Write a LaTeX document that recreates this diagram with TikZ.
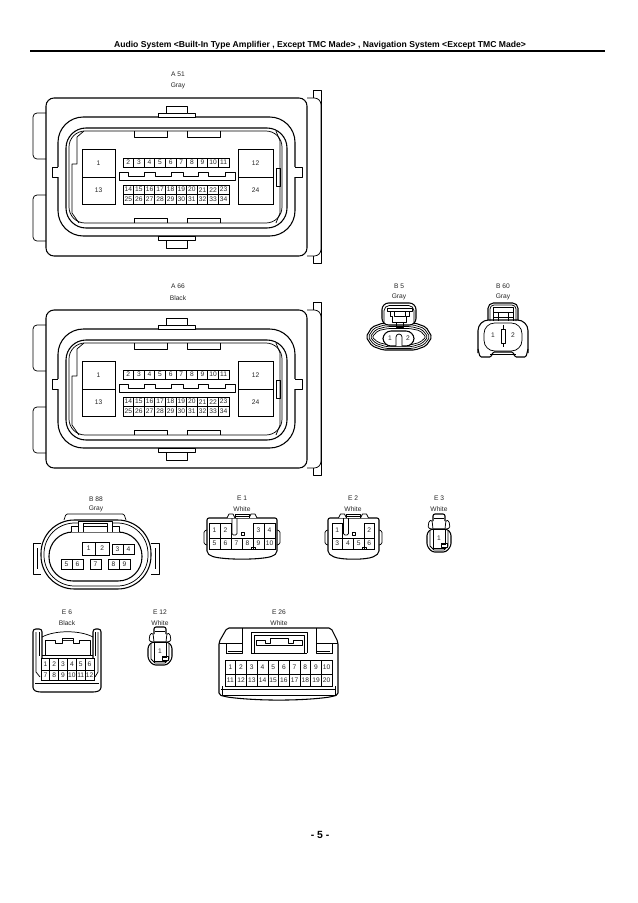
\documentclass[tikz,border=0pt]{standalone}
\usepackage{fontspec}
\setmainfont{Liberation Sans}
\tikzset{
  wire/.style={line width=0.55pt, line join=round},
  heavy/.style={line width=0.8pt, line join=round},
  lbl/.style={inner sep=0pt, font=\fontsize{5}{6}\selectfont, text=black!85},
  pinbox/.style n args={2}{draw, line width=0.5pt, inner sep=0pt, outer sep=0pt,
    minimum width=#1*0.75pt, minimum height=#2*0.75pt, font=\fontsize{5}{6}\selectfont, text=black!85}
}
\newcommand{\bigconn}[2]{
  \begin{scope}[shift={(0,#2)}]
    \draw[heavy, rounded corners=6pt] (46,98) rectangle (307,256);
    \draw[wire, rounded corners=3pt] (46,113) -- (33,113) -- (33,159) -- (46,159);
    \draw[wire, rounded corners=3pt] (46,195) -- (33,195) -- (33,241) -- (46,241);
    \draw[wire, rounded corners=5pt] (307,98) -- (321,98) -- (321,256) -- (307,256);
    \draw[wire] (313,98) -- (313,90) -- (321,90) -- (321,263) -- (313,263) -- (313,256);
    \draw[heavy, rounded corners=19pt] (58,117) rectangle (295,236);
    \draw[wire, fill=white] (158,117) -- (158,113) -- (166,113) -- (166,106) -- (187,106) -- (187,113) -- (195,113) -- (195,117) -- cycle;
    \draw[wire] (166,113) -- (187,113);
    \draw[wire, fill=white] (158,236) -- (158,240) -- (166,240) -- (166,248) -- (187,248) -- (187,240) -- (195,240) -- (195,236) -- cycle;
    \draw[wire] (166,240) -- (187,240);
    \fill[white] (52,167) rectangle (59,177);
    \draw[wire] (58,167) -- (52,167) -- (52,177) -- (58,177);
    \fill[white] (294,167) rectangle (302,177);
    \draw[wire] (295,167) -- (302,167) -- (302,177) -- (295,177);
    \draw[heavy, rounded corners=15pt] (66,128) rectangle (287,228);
    \draw[wire, rounded corners=12pt] (69,131) rectangle (282,223);
    \draw[wire] (84,131) -- (77,137) -- (77,164) -- (72,164) -- (72,213) -- (79,223);
    \draw[wire] (276,131) -- (280,141) -- (280,213) -- (276,223);
    \draw[wire] (276,168) rectangle (280,186);
    \draw[wire] (134,131) -- (134,137) -- (167,137) -- (167,131);
    \draw[wire] (187,131) -- (187,137) -- (220,137) -- (220,131);
    \draw[wire] (134,223) -- (134,218) -- (167,218) -- (167,223);
    \draw[wire] (187,223) -- (187,218) -- (220,218) -- (220,223);
    \draw[wire] (119,172) -- (128,172) -- (128,176) -- (144,176) -- (144,172) -- (155,172) -- (155,176) -- (171,176) -- (171,172) -- (183,172) -- (183,176) -- (198,176) -- (198,172) -- (208,172) -- (208,176) -- (225,176) -- (225,172) -- (235,172) -- (235,180) -- (119,180) -- cycle;
    \node[pinbox={33}{28}] (#1p1) at (98.5,163) {1};
    \node[pinbox={33}{27}] (#1p13) at (98.5,190.5) {13};
    \node[pinbox={35}{28}] (#1p12) at (255.5,163) {12};
    \node[pinbox={35}{27}] (#1p24) at (255.5,190.5) {24};
    \foreach \n [count=\i from 0] in {2,...,11}
      \node[pinbox={10.6}{9}] (#1p\n) at ({128.3+\i*10.6},162.5) {\n};
    \foreach \n [count=\i from 0] in {14,...,23}
      \node[pinbox={10.6}{9.5}] (#1p\n) at ({128.3+\i*10.6},189.7) {\n};
    \foreach \n [count=\i from 0] in {25,...,34}
      \node[pinbox={10.6}{9.5}] (#1p\n) at ({128.3+\i*10.6},199.2) {\n};
  \end{scope}
}
\newcommand{\ebody}[2]{
  \begin{scope}[shift={(#1,0)}]
    \draw[heavy, rounded corners=1.5pt] (-#2,553) -- (-#2,518) -- (#2,518) -- (#2,553) -- (#2-4,556) .. controls (#2/2,560) and (-#2/2,560) .. (-#2+4,556) -- cycle;
    \draw[wire, rounded corners=1pt] (-#2,530) -- (-#2-3,531) -- (-#2-3,544) -- (-#2,545);
    \draw[wire, rounded corners=1pt] (#2,530) -- (#2+3,531) -- (#2+3,544) -- (#2,545);
    \draw[wire, fill=white] (-15,518) -- (-13,514) -- (-9,514) -- (-7,518);
    \draw[wire, fill=white] (7,518) -- (9,514) -- (13,514) -- (15,518);
    \draw[wire, fill=white] (-7,518) -- (-7,514) -- (7,514) -- (7,518);
    \draw[wire] (-7,516) -- (7,516);
    \draw[wire, rounded corners=1pt] (-10,518) -- (-10,535) -- (-5,535) -- (-5,518);
    \draw[wire] (-1,532) rectangle (2,535);
    \draw[wire] (9,549) -- (9,547) -- (13,547) -- (13,549);
  \end{scope}
}
\newcommand{\esmall}[3]{
  \begin{scope}[shift={(#1,#2)}]
    \draw[heavy, rounded corners=1.5pt] (-6,8) -- (-6,1) -- (6,1) -- (6,8);
    \draw[wire] (-5,5) -- (5,5);
    \draw[wire, rounded corners=1pt] (-7,16) -- (-11,15) -- (-10,8) -- (-7,7) -- (-6,16);
    \draw[wire, rounded corners=1pt] (7,16) -- (11,15) -- (10,8) -- (7,7) -- (6,16);
    \draw[heavy, rounded corners=2pt] (-8,16) -- (-12,20) -- (-12,33) -- (-7,39) -- (7,39) -- (12,33) -- (12,20) -- (8,16) -- cycle;
    \draw[wire] (-9,18) -- (-9,33) -- (-5,37) -- (5,37) -- (9,33) -- (9,18);
    \node[pinbox={12}{19}] (#3p1) at (0,25.5) {1};
    \draw[wire, fill=white] (2,30) rectangle (8,34);
    \draw[wire] (3,31.5) -- (7,31.5);
  \end{scope}
}
\newcommand{\hexring}[2]{
  \draw[#2, rounded corners=1.5pt] (366+#1,337) -- (372+#1,327+#1*0.6) -- (383+#1,323+#1*0.9) -- (415-#1,323+#1*0.9) -- (426-#1,327+#1*0.6) -- (432-#1,337) -- (426-#1,346-#1*0.6) -- (415-#1,350-#1*0.8) -- (383+#1,350-#1*0.8) -- (372+#1,346-#1*0.6) -- cycle;
}
\begin{document}
\begin{tikzpicture}[x=0.75pt, y=-0.75pt]
  \useasboundingbox (0,0) rectangle (638,903);
  \fill[white] (0,0) rectangle (638,903);
  \node[inner sep=0pt, font=\fontsize{6.45}{9}\selectfont\bfseries] (title) at (320,45) {Audio System <Built-In Type Amplifier , Except TMC Made> , Navigation System <Except TMC Made>};
  \coordinate (ruleL) at (30,51);
  \coordinate (ruleR) at (605,51);
  \draw[line width=0.9pt] (ruleL) -- (ruleR);
  \node[inner sep=0pt, font=\fontsize{7.8}{9}\selectfont\bfseries] (page) at (320,835) {- 5 -};

  \node[lbl] (a51t) at (178,74) {A 51};
  \node[lbl] (a51c) at (178,86) {Gray};
  \bigconn{a}{0}
  \node[lbl] (a66t) at (178,286) {A 66};
  \node[lbl] (a66c) at (178,298) {Black};
  \bigconn{b}{212}

  \node[lbl] (b5t) at (399,286) {B 5};
  \node[lbl] (b5c) at (399,297) {Gray};
  \hexring{0}{heavy}
  \hexring{2}{wire}
  \hexring{4}{wire}
  \hexring{6}{wire}
  \draw[heavy, fill=white, rounded corners=5pt] (382,325) -- (382,303) -- (416,303) -- (416,325) -- cycle;
  \draw[wire, rounded corners=4pt] (384,324) -- (384,305.5) -- (414,305.5) -- (414,324);
  \draw[wire] (387,308) -- (412,308) -- (412,311) -- (387,311) -- cycle;
  \draw[wire] (390,311) -- (390,316) -- (392,316) -- (392,322) -- (406,322) -- (406,316) -- (409,316) -- (409,311);
  \draw[wire] (394,311) -- (394,316) -- (405,316) -- (405,311);
  \draw[wire] (396,322) -- (396,327) -- (403,327) -- (403,322);
  \draw[heavy, fill=white, rounded corners=6pt] (383,331) rectangle (414,346);
  \draw[wire, fill=white] (396,346) -- (396,337) arc[start angle=180, end angle=360, x radius=3, y radius=3] -- (402,346);
  \node[lbl] (b5p1) at (390,338.5) {1};
  \node[lbl] (b5p2) at (408,338.5) {2};

  \node[lbl] (b60t) at (503,286) {B 60};
  \node[lbl] (b60c) at (503,297) {Gray};
  \draw[heavy, rounded corners=4pt] (488,320) -- (488,303) -- (518,303) -- (518,320);
  \draw[wire, rounded corners=3pt] (490,321) -- (490,305) -- (516,305) -- (516,321);
  \draw[wire] (493,321) -- (493,307) -- (513,307) -- (513,321);
  \draw[wire] (493,312) -- (513,312);
  \draw[wire] (493,317) -- (513,317);
  \draw[wire] (498,312) -- (498,321);
  \draw[wire] (508,312) -- (508,321);
  \draw[heavy, rounded corners=8pt] (478,353) -- (478,320) -- (528,320) -- (528,353);
  \draw[heavy, rounded corners=1pt] (478,349) -- (480,357) -- (491,357) -- (493,352) -- (513,352) -- (515,357) -- (526,357) -- (528,349);
  \draw[wire, rounded corners=8pt] (484,323) rectangle (522,351);
  \draw[wire] (490,354) -- (516,354);
  \coordinate (b60a) at (503,325);
  \coordinate (b60b) at (503,347);
  \draw[wire] (b60a) -- (b60b);
  \draw[wire, fill=white] (501,329) rectangle (505,343);
  \node[lbl] (b60p1) at (493,335) {1};
  \node[lbl] (b60p2) at (513,335) {2};

  \node[lbl] (b88t) at (96,499) {B 88};
  \node[lbl] (b88c) at (96,509) {Gray};
  \draw[wire, fill=white] (41,543) -- (33,543) -- (33,574) -- (41,574);
  \draw[wire, fill=white] (151,543) -- (159,543) -- (159,574) -- (151,574);
  \draw[wire] (37,548) -- (37,569);
  \draw[wire] (155,548) -- (155,569);
  \draw[wire, rounded corners=1pt] (64,520) -- (66,514) -- (124,514) -- (126,520);
  \draw[heavy, rounded corners=25pt] (41,520) rectangle (151,589);
  \draw[wire, rounded corners=23pt] (44,523) rectangle (148,586);
  \draw[heavy, rounded corners=18pt] (49,532) rectangle (142,581);
  \draw[wire, fill=white] (71,532) -- (71,526) -- (78,526) -- (78,521) -- (112,521) -- (112,526) -- (119,526) -- (119,532);
  \draw[wire] (83,532) -- (83,523) -- (107,523) -- (107,532);
  \draw[wire] (78,526) -- (78,532);
  \draw[wire] (112,526) -- (112,532);
  \draw[wire] (83,526) -- (107,526);
  \node[pinbox={13.5}{13}] (b88p1) at (88.75,548.5) {1};
  \node[pinbox={13.5}{13}] (b88p2) at (102.25,548.5) {2};
  \node[pinbox={11}{10}] (b88p3) at (117.5,549) {3};
  \node[pinbox={11}{10}] (b88p4) at (128.5,549) {4};
  \node[pinbox={11}{10}] (b88p5) at (66.5,564) {5};
  \node[pinbox={11}{10}] (b88p6) at (77.5,564) {6};
  \node[pinbox={11}{10}] (b88p7) at (95.5,564) {7};
  \node[pinbox={11}{10}] (b88p8) at (113.5,564) {8};
  \node[pinbox={11}{10}] (b88p9) at (124.5,564) {9};

  \node[lbl] (e1t) at (242,498) {E 1};
  \node[lbl] (e1c) at (242,509) {White};
  \ebody{242}{35}
  \foreach \n/\c in {1/0,2/1,3/4,4/5}
    \node[pinbox={11}{15}] (e1p\n) at ({214.5+\c*11},530.5) {\n};
  \foreach \n [count=\c from 0] in {5,...,10}
    \node[pinbox={11}{11}] (e1p\n) at ({214.5+\c*11},543.5) {\n};

  \node[lbl] (e2t) at (353,498) {E 2};
  \node[lbl] (e2c) at (353,509) {White};
  \ebody{353.5}{25.5}
  \foreach \n/\c in {1/0,2/3}
    \node[pinbox={10.7}{15}] (e2p\n) at ({337.2+\c*10.7},530.5) {\n};
  \foreach \n [count=\c from 0] in {3,...,6}
    \node[pinbox={10.7}{11}] (e2p\n) at ({337.2+\c*10.7},543.5) {\n};

  \node[lbl] (e3t) at (439,498) {E 3};
  \node[lbl] (e3c) at (439,509) {White};
  \esmall{439}{513}{e3}
  \node[lbl] (e12t) at (160,612) {E 12};
  \node[lbl] (e12c) at (160,623) {White};
  \esmall{160}{626}{e12}

  \node[lbl] (e6t) at (67,612) {E 6};
  \node[lbl] (e6c) at (67,623) {Black};
  \draw[heavy, rounded corners=2pt] (42,658) -- (42,629) -- (33,629) -- (33,690) -- (38,692) -- (96,692) -- (101,690) -- (101,629) -- (93,629) -- (93,658);
  \draw[wire] (36,632) -- (36,672) -- (40,677);
  \draw[wire] (39,632) -- (39,656);
  \draw[wire] (98,632) -- (98,672) -- (95,677);
  \draw[wire] (95.5,632) -- (95.5,656);
  \draw[wire] (42,637) .. controls (55,630) and (80,630) .. (93,637);
  \draw[wire] (45,655) -- (45,640) -- (90,640) -- (90,655);
  \draw[wire, fill=white] (45,640) -- (55,640) -- (55,643) -- (62,643) -- (62,638) -- (73,638) -- (73,643) -- (79,643) -- (79,640) -- (90,640);
  \draw[wire] (42,655) -- (93,655);
  \draw[wire] (35,683) -- (99,683);
  \foreach \n [count=\c from 0] in {1,...,6}
    \node[pinbox={8.83}{12}] (e6p\n) at ({45.4+\c*8.83},664) {\n};
  \foreach \n [count=\c from 0] in {7,...,12}
    \node[pinbox={8.83}{10}] (e6p\n) at ({45.4+\c*8.83},675) {\n};

  \node[lbl] (e26t) at (279,612) {E 26};
  \node[lbl] (e26c) at (279,623) {White};
  \draw[heavy, rounded corners=1.5pt] (219,695) -- (219,642) -- (227,628) -- (331,628) -- (338,642) -- (338,695) -- (330,697) .. controls (300,701) and (258,701) .. (227,697) -- cycle;
  \draw[wire] (219,643) -- (242,643);
  \draw[wire] (316,643) -- (338,643);
  \draw[wire] (226,643) -- (226,654);
  \draw[wire] (332,643) -- (332,654);
  \draw[wire] (242,628) -- (242,653) -- (226,653);
  \draw[wire] (316,628) -- (316,653) -- (332,653);
  \draw[wire] (228,651) -- (242,651);
  \draw[wire] (316,651) -- (330,651);
  \draw[wire] (251,653) -- (251,632) -- (307,632) -- (307,653);
  \draw[wire] (254,653) -- (254,635) -- (304,635) -- (304,653);
  \draw[wire, fill=white] (256,645) -- (256,640) -- (265,640) -- (265,643) -- (270,643) -- (270,638) -- (288,638) -- (288,643) -- (293,643) -- (293,640) -- (302,640) -- (302,645) -- cycle;
  \draw[wire] (251,653) -- (307,653);
  \foreach \n [count=\c from 0] in {1,...,10}
    \node[pinbox={10.7}{14}] (e26p\n) at ({230.4+\c*10.7},667) {\n};
  \foreach \n [count=\c from 0] in {11,...,20}
    \node[pinbox={10.7}{12}] (e26p\n) at ({230.4+\c*10.7},680) {\n};
  \draw[wire] (221,689) -- (336,689);
  \draw[wire] (221,695) -- (336,695);
  \draw[wire] (222,686) -- (222,695);
  \draw[wire] (335,686) -- (335,695);
\end{tikzpicture}
\end{document}
